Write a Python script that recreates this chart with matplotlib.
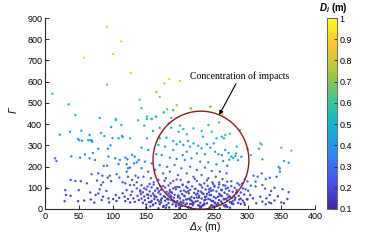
import matplotlib
matplotlib.use("Agg")
import matplotlib.pyplot as plt
from matplotlib.colors import LinearSegmentedColormap, Normalize
from matplotlib.patches import Ellipse

# ---------------- data ----------------
x_upper = [92, 113, 101, 58, 127, 184, 177, 200, 92, 11, 165, 170, 140, 35, 143, 195, 181, 176, 165, 151,
           45, 81, 105, 187, 216, 245, 263, 190, 158]
g_upper = [859, 790, 730, 713, 642, 613, 592, 603, 586, 543, 551, 528, 515, 493, 475, 489, 470, 455, 435, 435,
           443, 429, 424, 429, 474, 482, 446, 466, 424]
d_upper = [0.90, 0.88, 0.86, 0.93, 0.87, 0.86, 0.80, 0.87, 0.68, 0.58, 0.74, 0.72, 0.66, 0.56, 0.60, 0.72, 0.66,
           0.63, 0.60, 0.58, 0.52, 0.52, 0.55, 0.60, 0.72, 0.75, 0.80, 0.66, 0.58]

x_left = [105, 113, 98, 138, 37, 54, 22, 66, 83, 88, 114, 49, 51, 64, 67, 69, 55, 70, 109, 100, 126, 115,
          79, 93, 97, 71, 15, 17, 39, 52, 59, 66, 74, 87, 92, 94, 104, 111, 119, 122, 129, 133, 109, 121, 123,
          121, 126, 132, 136, 139,
          38, 45, 53, 62, 69, 79, 85, 93, 96, 106, 110, 115, 98, 77, 83, 86,
          2, 30, 31, 38, 29, 50, 49, 58, 67, 68, 73, 75, 79, 81, 84, 86, 91, 94, 95, 101, 105, 106, 110, 115,
          118, 119, 121, 123, 126, 127, 129, 131, 133, 136, 137, 139, 141, 132, 136, 126, 119, 129, 123, 134, 138]
g_left = [419, 396, 386, 418, 364, 369, 350, 349, 358, 344, 345, 330, 324, 324, 324, 324, 322, 317, 333, 334,
          333, 339, 284, 284, 300, 264, 239, 226, 248, 242, 257, 239, 231, 203, 204, 247, 239, 231, 242, 234,
          255, 247, 212, 211, 192, 176, 195, 215, 220, 231,
          137, 132, 131, 121, 164, 168, 157, 148, 157, 164, 148, 126, 131, 134, 114, 126,
          97, 89, 66, 62, 37, 89, 37, 40, 78, 45, 30, 66, 73, 93, 42, 58, 85, 50, 31, 47, 66, 38, 53, 74,
          58, 37, 89, 47, 31, 66, 82, 50, 34, 97, 62, 42, 82, 113, 126, 113, 121, 137, 152, 157, 148]
d_left = [0.55, 0.52, 0.50, 0.58, 0.47, 0.48, 0.44, 0.46, 0.47, 0.46, 0.48, 0.43, 0.43, 0.44, 0.44, 0.43,
          0.43, 0.42, 0.46, 0.46, 0.47, 0.47, 0.40, 0.40, 0.42, 0.38, 0.33, 0.32, 0.35, 0.35, 0.37, 0.35,
          0.34, 0.31, 0.31, 0.36, 0.35, 0.34, 0.36, 0.35, 0.38, 0.37, 0.32, 0.32, 0.30, 0.29, 0.30, 0.33,
          0.33, 0.35,
          0.25, 0.24, 0.24, 0.23, 0.28, 0.28, 0.27, 0.26, 0.27, 0.28, 0.26, 0.24, 0.24, 0.25, 0.23, 0.24,
          0.22, 0.21, 0.20, 0.20, 0.18, 0.21, 0.18, 0.18, 0.21, 0.19, 0.17, 0.20, 0.21, 0.21, 0.18, 0.19,
          0.21, 0.19, 0.17, 0.18, 0.20, 0.18, 0.19, 0.20, 0.19, 0.17, 0.21, 0.18, 0.17, 0.20, 0.21, 0.18,
          0.17, 0.22, 0.19, 0.18, 0.21, 0.22, 0.24, 0.22, 0.23, 0.25, 0.26, 0.27, 0.26]

x_mid = [176, 190, 216, 245, 151, 158, 164, 147, 160, 170, 183, 187, 200, 205, 198, 210, 220, 232, 234, 247,
         254, 262, 267, 265, 242, 258, 170, 180, 190, 195, 200, 205, 212, 215, 220, 227, 232, 240, 245, 250,
         252, 257, 262, 267, 237, 225, 210, 204, 190, 178, 168, 151, 153, 143, 165, 173, 185, 195, 207, 217,
         230, 242, 254, 264, 270, 148, 158, 170, 181, 192, 202, 215, 225, 237, 247, 259, 269, 143, 153, 163,
         175, 185, 197, 210, 220, 232, 242, 253, 263, 146, 157, 168, 179, 190, 201, 212, 225, 236, 248, 258, 270]
g_mid = [455, 466, 474, 482, 424, 424, 435, 393, 368, 383, 404, 383, 393, 377, 364, 352, 380, 368, 341, 364,
         333, 341, 349, 333, 396, 408, 333, 336, 320, 305, 317, 302, 320, 294, 309, 298, 286, 305, 289, 309,
         270, 258, 254, 278, 258, 262, 270, 254, 278, 294, 302, 333, 278, 289, 258, 254, 242, 236, 231, 239,
         223, 220, 210, 226, 204, 223, 215, 207, 199, 207, 192, 199, 184, 195, 179, 176, 168, 192, 176, 184,
         168, 176, 160, 168, 152, 160, 145, 152, 141, 152, 145, 137, 145, 132, 137, 126, 132, 121, 126, 116, 129]
d_mid = [0.64, 0.66, 0.70, 0.74, 0.58, 0.58, 0.60, 0.55, 0.52, 0.54, 0.57, 0.55, 0.56, 0.54, 0.52, 0.51,
         0.55, 0.54, 0.50, 0.55, 0.52, 0.55, 0.62, 0.50, 0.58, 0.62, 0.48, 0.49, 0.47, 0.46, 0.47, 0.45,
         0.48, 0.44, 0.46, 0.45, 0.44, 0.46, 0.44, 0.47, 0.41, 0.40, 0.40, 0.43, 0.40, 0.40, 0.41, 0.39,
         0.42, 0.44, 0.45, 0.47, 0.42, 0.43, 0.39, 0.38, 0.37, 0.36, 0.35, 0.36, 0.34, 0.34, 0.33, 0.35,
         0.32, 0.34, 0.33, 0.32, 0.31, 0.32, 0.30, 0.31, 0.29, 0.30, 0.29, 0.28, 0.28, 0.30, 0.28, 0.29,
         0.28, 0.28, 0.27, 0.28, 0.26, 0.27, 0.25, 0.26, 0.25, 0.26, 0.25, 0.24, 0.25, 0.24, 0.24, 0.23,
         0.24, 0.23, 0.23, 0.22, 0.24]

x_low = [143, 152, 161, 175, 183, 196, 204, 218, 229, 241, 251, 264, 276, 288,
         147, 158, 167, 178, 190, 199, 211, 222, 233, 245, 257, 268, 281, 293,
         141, 150, 163, 172, 185, 194, 206, 215, 227, 238, 249, 261, 273, 284, 297,
         145, 155, 168, 180, 188, 201, 209, 221, 231, 243, 254, 266, 278, 290,
         142, 151, 160, 171, 183, 192, 203, 213, 224, 235, 246, 258, 270, 283, 295,
         147, 157, 165, 176, 187, 197, 207, 217, 228, 239, 250, 262, 274, 287,
         143, 153, 162, 173, 181, 191, 200, 211, 221, 232, 242, 253, 265, 277, 290, 299,
         148, 158, 167, 178, 187, 196, 205, 215, 226, 236, 247, 258, 270, 281, 293,
         145, 154, 164, 172, 183, 192, 202, 210, 219, 230, 240, 251, 262, 274, 286,
         150, 160, 170, 180, 189, 198, 208, 218, 227, 236, 246, 257, 268, 279,
         156, 175, 194, 213, 232, 251, 270,
         186, 197, 209, 223, 236, 248, 259, 271, 183, 201, 215, 229, 244, 256, 268, 190, 205, 219, 233, 246,
         261, 277, 212, 225, 238, 252, 265, 194, 178, 169, 162, 280, 288, 296]
g_low = [112, 106, 115, 108, 111, 104, 113, 107, 116, 109, 105, 112, 108, 114,
         98, 102, 96, 101, 97, 103, 99, 95, 101, 98, 102, 96, 100, 97,
         88, 92, 86, 91, 89, 93, 87, 90, 85, 92, 88, 91, 86, 89, 93,
         79, 83, 77, 81, 78, 84, 80, 76, 82, 79, 83, 77, 81, 78,
         71, 68, 73, 69, 72, 67, 70, 74, 68, 71, 66, 72, 69, 73, 68,
         59, 62, 57, 61, 58, 63, 60, 56, 62, 59, 57, 61, 58, 62,
         49, 52, 47, 51, 48, 53, 50, 46, 52, 49, 47, 51, 48, 52, 49, 46,
         41, 38, 43, 39, 42, 37, 40, 44, 38, 41, 37, 42, 39, 43, 40,
         29, 32, 27, 31, 28, 33, 30, 26, 32, 29, 27, 31, 28, 32, 29,
         21, 18, 23, 19, 22, 17, 20, 24, 18, 21, 17, 22, 19, 23,
         12, 10, 13, 9, 12, 11, 10,
         64, 55, 45, 35, 26, 16, 63, 54, 44, 34, 24, 15, 66, 57, 47, 37, 28, 18, 75, 86,
         35, 25, 83, 54, 45, 28, 16, 22, 56, 35, 64, 60, 45, 20]
d_low = [0.23, 0.23, 0.24, 0.23, 0.23, 0.22, 0.24, 0.23, 0.24, 0.23, 0.22, 0.23, 0.23, 0.24,
         0.22, 0.22, 0.21, 0.22, 0.21, 0.22, 0.22, 0.21, 0.22, 0.21, 0.22, 0.21, 0.22, 0.21,
         0.21, 0.21, 0.20, 0.21, 0.20, 0.21, 0.20, 0.21, 0.20, 0.21, 0.20, 0.21, 0.20, 0.20, 0.21,
         0.20, 0.20, 0.195, 0.20, 0.195, 0.20, 0.20, 0.195, 0.20, 0.195, 0.20, 0.195, 0.20, 0.195,
         0.19, 0.185, 0.19, 0.185, 0.19, 0.185, 0.185, 0.19, 0.185, 0.19, 0.185, 0.19, 0.185, 0.19, 0.185,
         0.185, 0.18, 0.18, 0.185, 0.18, 0.185, 0.18, 0.18, 0.185, 0.18, 0.18, 0.185, 0.18, 0.185,
         0.18, 0.175, 0.17, 0.18, 0.17, 0.175, 0.17, 0.17, 0.18, 0.17, 0.17, 0.175, 0.17, 0.18, 0.17, 0.17,
         0.17, 0.165, 0.17, 0.165, 0.17, 0.165, 0.165, 0.17, 0.165, 0.17, 0.165, 0.17, 0.165, 0.17, 0.165,
         0.165, 0.16, 0.16, 0.165, 0.16, 0.165, 0.16, 0.16, 0.165, 0.16, 0.16, 0.165, 0.16, 0.165, 0.16,
         0.16, 0.155, 0.16, 0.155, 0.16, 0.155, 0.155, 0.16, 0.155, 0.16, 0.155, 0.16, 0.155, 0.16,
         0.15, 0.145, 0.15, 0.145, 0.15, 0.145, 0.145,
         0.19, 0.18, 0.17, 0.165, 0.16, 0.15, 0.19, 0.18, 0.17, 0.165, 0.16, 0.15, 0.19, 0.18, 0.17, 0.165,
         0.16, 0.15, 0.20, 0.20, 0.165, 0.16, 0.20, 0.18, 0.17, 0.16, 0.15, 0.16, 0.18, 0.165, 0.19, 0.19,
         0.17, 0.155]

x_fill = [150, 157, 163, 169, 176, 182, 188, 193, 199, 206, 212, 217, 223, 228, 234, 240, 245, 251, 256, 262,
          267, 273, 278, 284, 290,
          153, 160, 166, 172, 179, 185, 191, 198, 203, 209, 214, 220, 226, 231, 237, 243, 249, 254, 260, 265,
          271, 276, 282,
          155, 161, 171, 177, 186, 195, 204, 213, 222, 231, 240, 249, 258, 267, 276, 285,
          168, 184, 199, 216, 230, 244, 259, 274]
g_fill = [5, 33, 58, 84, 14, 47, 76, 102, 26, 63, 8, 39, 95, 54, 18, 71, 44, 110, 29, 88, 12, 60, 36, 79, 24,
          67, 21, 97, 43, 6, 81, 35, 62, 15, 105, 50, 27, 73, 9, 57, 92, 38, 19, 66, 45, 100, 31, 53,
          118, 126, 108, 133, 122, 139, 115, 128, 142, 112, 135, 119, 125, 110, 131, 121,
          3, 7, 4, 6, 5, 8, 3, 6]
d_fill = [0.15, 0.165, 0.185, 0.21, 0.155, 0.18, 0.195, 0.23, 0.16, 0.19, 0.15, 0.17, 0.21, 0.18, 0.155,
          0.19, 0.175, 0.23, 0.165, 0.21, 0.15, 0.19, 0.17, 0.20, 0.16,
          0.19, 0.16, 0.21, 0.175, 0.15, 0.20, 0.165, 0.19, 0.155, 0.22, 0.18, 0.165, 0.195, 0.15, 0.185,
          0.21, 0.17, 0.155, 0.19, 0.175, 0.22, 0.165, 0.18,
          0.23, 0.25, 0.23, 0.25, 0.24, 0.26, 0.23, 0.25, 0.26, 0.23, 0.25, 0.23, 0.24, 0.23, 0.25, 0.24,
          0.145, 0.15, 0.145, 0.15, 0.145, 0.15, 0.145, 0.15]

x_right = [289, 274, 319, 321, 350, 365, 317, 284, 300, 305, 283, 272, 291, 286, 322, 354, 361, 346, 348, 348,
           276, 279, 282, 273,
           309, 315, 321, 327, 333, 343, 312, 322, 312, 326, 335, 340, 352, 361, 359, 350, 354, 333, 328, 322,
           327, 332, 335, 319, 301, 304, 308, 313, 300, 305, 296, 292, 295, 300, 345, 340]
g_right = [372, 355, 310, 304, 289, 275, 284, 294, 283, 254, 262, 264, 246, 230, 234, 226, 218, 198, 191, 176,
           247, 240, 250, 232,
           157, 152, 168, 141, 147, 152, 129, 113, 107, 96, 85, 100, 93, 79, 47, 31, 27, 66, 50, 35,
           22, 31, 27, 58, 86, 66, 50, 27, 130, 110, 140, 120, 30, 45, 60, 40]
d_right = [0.68, 0.62, 0.66, 0.64, 0.66, 0.68, 0.56, 0.50, 0.52, 0.50, 0.47, 0.46, 0.45, 0.43, 0.45, 0.43,
           0.42, 0.40, 0.40, 0.38, 0.45, 0.44, 0.45, 0.43,
           0.30, 0.29, 0.31, 0.28, 0.29, 0.29, 0.27, 0.25, 0.24, 0.23, 0.22, 0.23, 0.22, 0.22, 0.19, 0.18,
           0.17, 0.21, 0.19, 0.18, 0.17, 0.18, 0.17, 0.20, 0.22, 0.20, 0.19, 0.17, 0.26, 0.24, 0.27, 0.26,
           0.17, 0.18, 0.20, 0.18]

x_ticks = [0, 50, 100, 150, 200, 250, 300, 350, 400]
y_ticks = [0, 100, 200, 300, 400, 500, 600, 700, 800, 900]
cb_ticks = [0.1, 0.2, 0.3, 0.4, 0.5, 0.6, 0.7, 0.8, 0.9, 1]
cb_labels = ['0.1', '0.2', '0.3', '0.4', '0.5', '0.6', '0.7', '0.8', '0.9', '1']

circle_center = (231, 230)
annot_text = "Concentration of impacts"

# ---------------- style ----------------
parula_anchors = [(0.2422, 0.1504, 0.6603), (0.2810, 0.3228, 0.9579), (0.1786, 0.5289, 0.9682),
                  (0.0689, 0.6948, 0.8394), (0.2161, 0.7843, 0.5923), (0.6720, 0.7793, 0.2227),
                  (0.9970, 0.7659, 0.2199), (0.9769, 0.9839, 0.0805)]
parula = LinearSegmentedColormap.from_list("parula", parula_anchors, N=256)

plt.rcParams['font.family'] = ['Liberation Sans', 'DejaVu Sans']
plt.rcParams['mathtext.fontset'] = 'custom'
plt.rcParams['mathtext.it'] = 'Liberation Sans:italic'
plt.rcParams['mathtext.rm'] = 'Liberation Sans'
plt.rcParams['mathtext.bf'] = 'Liberation Sans:bold'
plt.rcParams['mathtext.bfit'] = 'Liberation Sans:italic:bold'

fig = plt.figure(figsize=(3.81, 2.41), dpi=100)
ax = fig.add_axes([45 / 381, 32 / 241, 270 / 381, 191 / 241])
cax = fig.add_axes([327 / 381, 32 / 241, 10 / 381, 191 / 241])

xs = x_upper + x_left + x_mid + x_low + x_fill + x_right
gs = g_upper + g_left + g_mid + g_low + g_fill + g_right
ds = d_upper + d_left + d_mid + d_low + d_fill + d_right
norm = Normalize(vmin=0.1, vmax=1.0)
sc = ax.scatter(xs, gs, c=ds, cmap=parula, norm=norm, s=3.0, marker='o', linewidths=0)

ell = Ellipse(circle_center, width=142, height=462, fill=False, edgecolor='#8a1f1f', linewidth=1.0)
ax.add_patch(ell)

ax.annotate(annot_text, xy=(258, 443), xytext=(289, 603), textcoords='data',
            arrowprops=dict(arrowstyle='-|>', color='black', lw=0.8, mutation_scale=6, shrinkA=0, shrinkB=0),
            fontsize=7, family='Liberation Serif', ha='center', va='bottom', annotation_clip=False)

ax.set_xlim(0, 400)
ax.set_ylim(0, 900)
ax.set_xticks(x_ticks)
ax.set_yticks(y_ticks)
for s in ['top', 'right']:
    ax.spines[s].set_visible(False)
for s in ['left', 'bottom']:
    ax.spines[s].set_color('#262626')
    ax.spines[s].set_linewidth(0.8)
ax.tick_params(direction='in', length=3, width=0.7, labelsize=6.5, colors='#262626',
               labelcolor='black', pad=2)

# axis labels: italic Greek letters as plain text (mathtext keeps capital Greek upright)
fig.text(196 / 381, (241 - 230) / 241, 'Δ', fontsize=7.5, fontstyle='italic', ha='right', va='baseline')
fig.text(196.5 / 381, (241 - 230) / 241, r'$_{\mathit{X}}$ (m)', fontsize=7.5, ha='left', va='baseline')
fig.text(14 / 381, (241 - 110) / 241, 'Γ', fontsize=7.5, fontstyle='italic', rotation=90,
         ha='center', va='center')

cb = fig.colorbar(sc, cax=cax, ticks=cb_ticks)
cb.ax.set_yticklabels(cb_labels)
cb.ax.tick_params(direction='in', length=2, width=0.6, labelsize=6.5, pad=2, colors='#262626',
                  labelcolor='black')
cb.outline.set_linewidth(0.6)
cb.outline.set_edgecolor('#555555')
fig.text(333 / 381, 1 - 8 / 241, r'$\mathbfit{D_i}$ (m)', fontsize=7, ha='center', va='center',
         fontweight='bold')

fig.savefig('out.png', dpi=100)
